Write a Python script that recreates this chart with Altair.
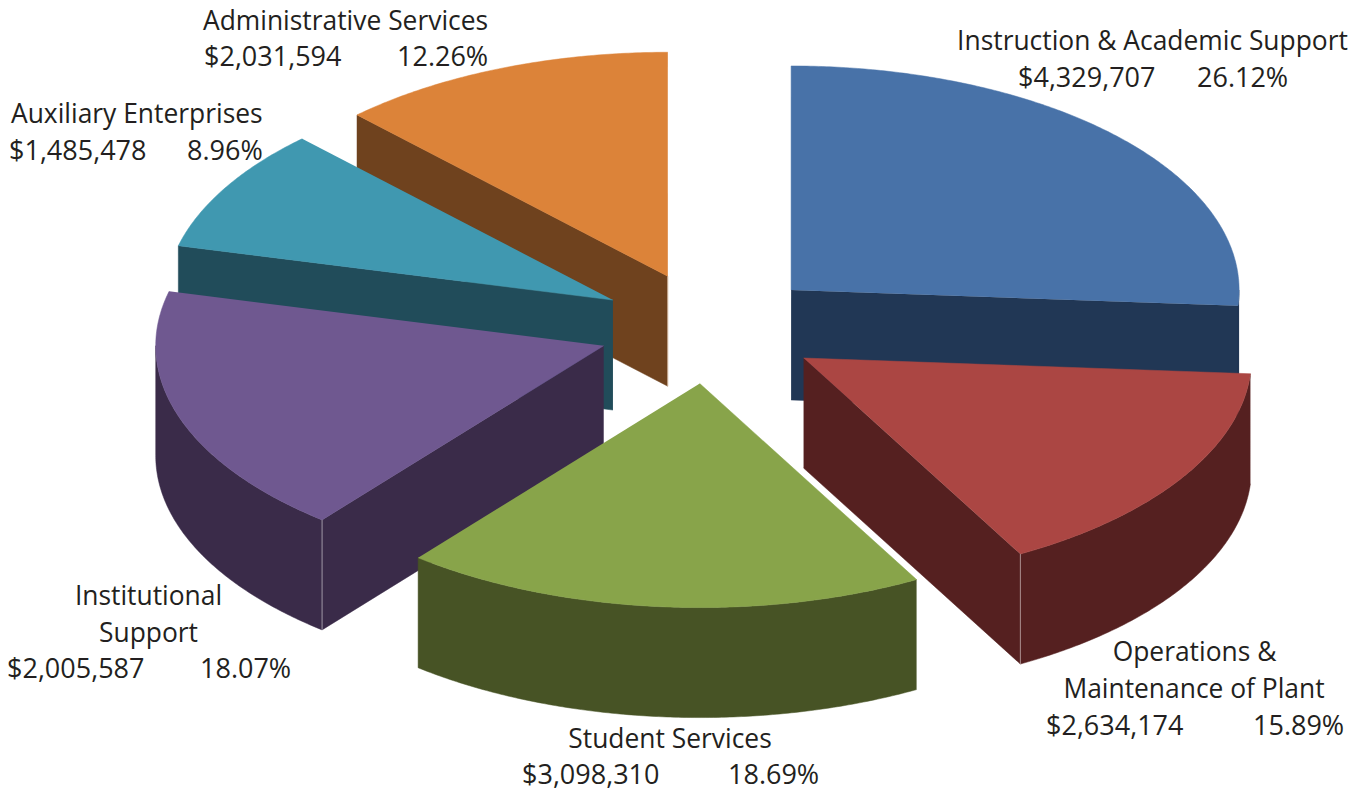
import math
import altair as alt
import pandas as pd

# ---- values ----
names = ["Instruction & Academic Support", "Operations & Maintenance of Plant", "Student Services",
         "Institutional Support", "Auxiliary Enterprises", "Administrative Services"]
amounts = ["$4,329,707", "$2,634,174", "$3,098,310", "$2,005,587", "$1,485,478", "$2,031,594"]
percents = ["26.12%", "15.89%", "18.69%", "18.07%", "8.96%", "12.26%"]
# slice sizes as measured on the drawing (percent of the circle)
shares = [26.12, 15.84, 18.86, 18.08, 8.90, 12.20]

# ---- styles ----
top_colors = ["#4872A8", "#AB4643", "#88A44A", "#6F5890", "#4098B0", "#DC8339"]
side_colors = ["#213755", "#552020", "#475325", "#3A2B49", "#214C5A", "#6F421E"]
edge_colors = ["#8d9bb0", "#aa8f8f", "#a3a992", "#9c95a4", "#8fa5ac", "#d3b9a0"]

# ---- layout of the 3-D pie, in page pixels ----
CX, CY = 709.5, 328.0
RX, RY = 448.0, 224.0
EXPLODE = 0.249
DEPTH = 110.0
W, H = 1348, 784
FONT = "Open Sans"
FS_NAME = 26.4
FS_NUM = 27.0

name_rows = [
    ("Instruction & Academic Support", 1152.5, 50, "center"),
    ("Operations &", 1194.5, 661, "center"), ("Maintenance of Plant", 1194, 698, "center"),
    ("Student Services", 670, 748, "center"),
    ("Institutional", 148.5, 605, "center"), ("Support", 148.5, 642, "center"),
    ("Auxiliary Enterprises", 11, 123, "left"),
    ("Administrative Services", 203, 30, "left"),
]
num_pos = [(1018, 1197, 87), (1046, 1253, 735), (522, 728, 784), (7, 200, 678), (9, 187, 160), (204, 397, 66)]
num_rows = []
for (xa, xp, yb), am, pc in zip(num_pos, amounts, percents):
    num_rows += [(am, xa, yb, "left"), (pc, xp, yb, "left")]

x_scale = alt.Scale(domain=[8, 8 + W], range=[0, W], nice=False, zero=False)
y_scale = alt.Scale(domain=[8, 8 + H], range=[0, H], nice=False, zero=False)
X = alt.X("px:Q", scale=x_scale, axis=None)
Y = alt.Y("py:Q", scale=y_scale, axis=None)


def pt(ax, ay, deg, dz=0.0):
    a = math.radians(deg)
    return (ax + RX * math.sin(a), ay - RY * math.cos(a) + dz)


def frame(points):
    return pd.DataFrame({"px": [p[0] for p in points], "py": [p[1] for p in points],
                         "i": list(range(len(points)))})


def poly(points, fill):
    return alt.Chart(frame(points)).mark_line(fill=fill, stroke=fill, strokeWidth=0.5).encode(
        x=X, y=Y, order=alt.Order("i:Q"))


def edge(p, q, color):
    return alt.Chart(frame([p, q])).mark_line(stroke=color, strokeWidth=1).encode(
        x=X, y=Y, order=alt.Order("i:Q"))


def arc_angles(a0, a1):
    n = max(2, int(abs(a1 - a0) * 2))
    return [a0 + (a1 - a0) * k / n for k in range(n + 1)]


# start/end angles of every slice come from the shares
total = sum(shares)
starts, ends, acc = [], [], 0.0
for s in shares:
    starts.append(acc)
    acc += s / total * 360.0
    ends.append(acc)

# which cut face shows: right-hand slices the end face, left-hand slices the start face
face_side = {0: "end", 1: "end", 3: "start", 4: "start", 5: "start"}

layers = []
for idx in [0, 5, 4, 3, 1, 2]:  # painter's order of the picture
    a0, a1 = starts[idx], ends[idx]
    mid = math.radians((a0 + a1) / 2)
    ax = CX + EXPLODE * RX * math.sin(mid)
    ay = CY - EXPLODE * RY * math.cos(mid)
    top, side, ec = top_colors[idx], side_colors[idx], edge_colors[idx]
    apex, apex_low = (ax, ay), (ax, ay + DEPTH)

    if idx in face_side:
        ang = a1 if face_side[idx] == "end" else a0
        layers.append(poly([apex, pt(ax, ay, ang), pt(ax, ay, ang, DEPTH), apex_low], side))
    # outer wall: the front half of the rim only
    w0, w1 = max(a0, 90.0), min(a1, 270.0)
    if w1 > w0:
        angs = arc_angles(w0, w1)
        layers.append(poly([pt(ax, ay, a) for a in angs] +
                           [pt(ax, ay, a, DEPTH) for a in reversed(angs)], side))
    # top face
    layers.append(poly([apex] + [pt(ax, ay, a) for a in arc_angles(a0, a1)], top))
    # thin light edges
    if idx == 1:
        layers.append(edge(pt(ax, ay, a1), pt(ax, ay, a1, DEPTH), ec))
    if idx == 3:
        layers.append(edge(pt(ax, ay, a0), pt(ax, ay, a0, DEPTH), ec))
    if idx == 5:
        layers.append(edge(apex, apex_low, ec))

for rows, size in [(name_rows, FS_NAME), (num_rows, FS_NUM)]:
    txt = pd.DataFrame(rows, columns=["t", "px", "py", "al"])
    for al in sorted(set(txt["al"])):
        layers.append(
            alt.Chart(txt[txt["al"] == al]).mark_text(
                font=FONT, fontSize=size, color="#231F20", align=al, baseline="alphabetic"
            ).encode(x=X, y=Y, text="t:N")
        )

chart = alt.layer(*layers).properties(
    width=W, height=H, padding=0, autosize=alt.AutoSizeParams(type="none"), background="white"
).configure_view(stroke=None)

chart.save("out.html", embed_options={"renderer": "svg", "actions": False})
